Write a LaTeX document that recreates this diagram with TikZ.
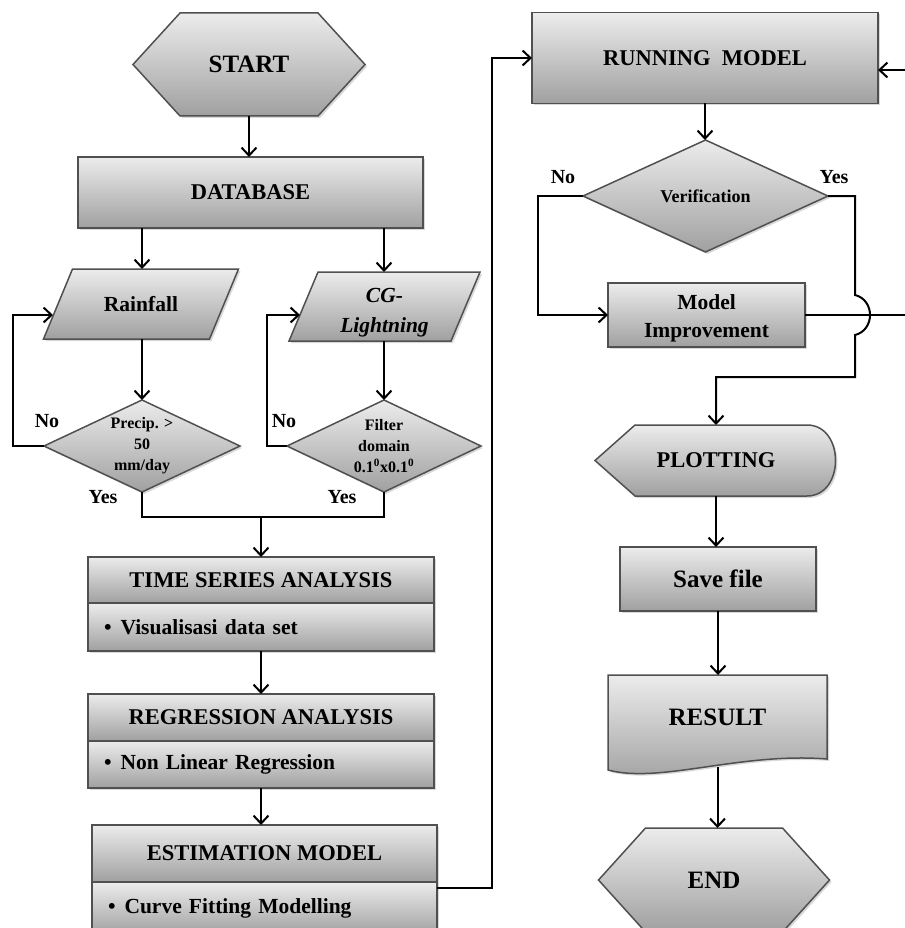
\documentclass[tikz,border=0pt]{standalone}
\usepackage{fontspec}
\setmainfont{Liberation Serif}
\usetikzlibrary{arrows.meta,shadows,calc}
\pgfdeclarelayer{background}
\pgfsetlayers{background,main}
\definecolor{topgray}{RGB}{236,236,236}
\definecolor{botgray}{RGB}{160,160,160}
\definecolor{edgegray}{RGB}{80,80,80}
\tikzset{
  shade box/.style={draw=edgegray, line width=1.5pt, top color=topgray, bottom color=botgray,
    drop shadow={shadow xshift=2pt, shadow yshift=-2pt, opacity=0.3}},
  boxnode/.style={shade box, rectangle, inner sep=0pt, outer sep=0pt, align=center},
  holder/.style={rectangle, inner sep=0pt, outer sep=0pt, align=center},
  bigfont/.style={font=\bfseries\fontsize{25}{30}\selectfont},
  headfont/.style={font=\bfseries\fontsize{22.5}{27}\selectfont},
  subfont/.style={font=\bfseries\fontsize{21.5}{28}\selectfont},
  twolinefont/.style={font=\bfseries\fontsize{21.5}{30}\selectfont},
  smallfont/.style={font=\bfseries\fontsize{16}{21}\selectfont},
  verfont/.style={font=\bfseries\fontsize{18}{22}\selectfont},
  yesno/.style={font=\bfseries\fontsize{20}{24}\selectfont, inner sep=0pt},
  bulletpart/.style={boxnode, subfont, align=left, text width=314pt},
  conn/.style={draw=black, line width=2pt, -{Straight Barb[length=8pt,width=15pt]}},
  link/.style={draw=black, line width=2pt},
}
\begin{document}
\begin{tikzpicture}[x=1pt,y=-1pt]
\useasboundingbox (0,0) rectangle (904,928);
\begin{pgfonlayer}{background}
\fill[white] (0,0) rectangle (904,928);
\end{pgfonlayer}

% ---------- left column ----------
\node[holder, bigfont, minimum width=232pt, minimum height=103pt] (start) at (249,64.5) {START};
\node[boxnode, headfont, minimum width=345pt, minimum height=71pt] (db) at (250.5,192.5) {DATABASE};
\node[holder, subfont, minimum width=195pt, minimum height=70pt] (rain) at (141,304) {Rainfall};
\node[holder, minimum width=191pt, minimum height=69pt,
  label={[twolinefont, align=center, inner sep=0pt, yshift=-6pt]center:{\itshape CG-}\\{\itshape Lightning}}] (cg) at (384.5,306.5) {};
\node[holder, smallfont, minimum width=196pt, minimum height=92pt] (d1) at (142,446) {Precip. >\\50\\mm/day};
\node[holder, smallfont, minimum width=194pt, minimum height=92pt] (d2) at (384,446) {Filter\\domain\\0.1\textsuperscript{0}x0.1\textsuperscript{0}};

\node[boxnode, headfont, minimum width=346pt, minimum height=46pt] (ts) at (261,580) {TIME SERIES ANALYSIS};
\node[bulletpart, minimum width=346pt, minimum height=48pt] (tsb) at (261,627) {\textbullet\hspace{9pt}Visualisasi data set};
\node[boxnode, headfont, minimum width=346pt, minimum height=47pt] (rg) at (261,717.5) {REGRESSION ANALYSIS};
\node[bulletpart, minimum width=346pt, minimum height=47pt] (rgb) at (261,764.5) {\textbullet\hspace{9pt}Non Linear Regression};
\node[boxnode, headfont, minimum width=345pt, minimum height=57pt] (es) at (264.5,853.5) {ESTIMATION MODEL};
\node[bulletpart, minimum width=345pt, minimum height=53pt, text width=313pt] (esb) at (264.5,908.5) {\textbullet\hspace{9pt}Curve Fitting Modelling};

% ---------- right column ----------
\node[boxnode, headfont, minimum width=346pt, minimum height=91pt] (run) at (705,58) {RUNNING~ MODEL};
\node[holder, verfont, minimum width=245pt, minimum height=112pt] (ver) at (705.5,196) {Verification};
\node[boxnode, minimum width=197pt, minimum height=64pt,
  label={[subfont, align=center, inner sep=0pt, yshift=-3pt]center:Model\\Improvement}] (mi) at (706.5,315) {};
\node[holder, headfont, minimum width=242pt, minimum height=71pt] (plot) at (716,460.5) {PLOTTING};
\node[boxnode, bigfont, minimum width=196pt, minimum height=64pt] (save) at (718,579) {Save file};
\node[holder, bigfont, minimum width=219pt, minimum height=84pt] (res) at (717.5,717) {RESULT};
\node[holder, bigfont, minimum width=231pt, minimum height=104pt] (end) at (714,880) {END};

% ---------- custom shapes ----------
\begin{pgfonlayer}{background}
\path[shade box] (start.west) -- ([xshift=47pt]start.north west) -- ([xshift=-47pt]start.north east)
  -- (start.east) -- ([xshift=-47pt]start.south east) -- ([xshift=47pt]start.south west) -- cycle;
\path[shade box] ([xshift=29pt]rain.north west) -- (rain.north east) -- ([xshift=-29pt]rain.south east)
  -- (rain.south west) -- cycle;
\path[shade box] ([xshift=29pt]cg.north west) -- (cg.north east) -- ([xshift=-29pt]cg.south east)
  -- (cg.south west) -- cycle;
\path[shade box] (d1.north) -- (d1.east) -- (d1.south) -- (d1.west) -- cycle;
\path[shade box] (d2.north) -- (d2.east) -- (d2.south) -- (d2.west) -- cycle;
\path[shade box] (ver.north) -- (ver.east) -- (ver.south) -- (ver.west) -- cycle;
\path[shade box] (plot.west) -- ([xshift=40pt]plot.north west) -- ([xshift=-30pt]plot.north east)
  .. controls ([xshift=8pt]plot.north east) and ([xshift=8pt]plot.south east) .. ([xshift=-30pt]plot.south east)
  -- ([xshift=40pt]plot.south west) -- cycle;
\path[shade box] (res.north west) -- (res.north east) -- (res.south east)
  .. controls (740,752) and (660,784) .. ([yshift=-11pt]res.south west) -- cycle;
\path[shade box] (end.west) -- ([xshift=47pt]end.north west) -- ([xshift=-47pt]end.north east)
  -- (end.east) -- ([xshift=-47pt]end.south east) -- ([xshift=47pt]end.south west) -- cycle;
\end{pgfonlayer}

% ---------- labels ----------
\node[yesno] (no1) at (47,421) {No};
\node[yesno] (no2) at (284,421) {No};
\node[yesno] (yes1) at (103,497) {Yes};
\node[yesno] (yes2) at (342,497) {Yes};
\node[yesno] (no3) at (563,177) {No};
\node[yesno] (yes3) at (834,177) {Yes};

% ---------- connectors ----------
\coordinate (rainin) at (53,315);
\coordinate (cgin) at (300,315);
\coordinate (merge) at (261,517);

\draw[conn] (start.south) -- (start.south |- db.north);
\draw[conn] (db.south -| d1.north) -- (rain.north -| d1.north);
\draw[conn] (db.south -| d2.north) -- (cg.north -| d2.north);
\draw[conn] (rain.south -| d1.north) -- (d1.north);
\draw[conn] (cg.south -| d2.north) -- (d2.north);
\draw[conn] (d1.west) -- ++(-31,0) |- (rainin);
\draw[conn] (d2.west) -- ++(-20,0) |- (cgin);
\draw[link] (d1.south) |- (merge) -| (d2.south);
\draw[conn] (merge) -- (ts.north);
\draw[conn] (tsb.south) -- (rg.north);
\draw[conn] (rgb.south) -- (rgb.south |- es.north);
\draw[conn] ([yshift=-6pt]esb.north east) -- (492,888) |- (run.west);

\draw[conn] (run.south) -- (run.south |- ver.north);
\draw[conn] (ver.west) -- (538,196) |- (mi.west);
\draw[conn] (mi.east) -- (915,315) |- ([yshift=-12pt]run.east);
\draw[conn] (ver.east) -| (855,295) .. controls (875,300) and (875,330) .. (855,335)
  |- ($(plot.north)+(0,-48)$) -- (plot.north);
\draw[conn] (plot.south) -- (plot.south |- save.north);
\draw[conn] (save.south) -- (save.south |- res.north);
\draw[conn] ([yshift=-8pt]res.south) -- (res.south |- end.north);
\end{tikzpicture}
\end{document}
